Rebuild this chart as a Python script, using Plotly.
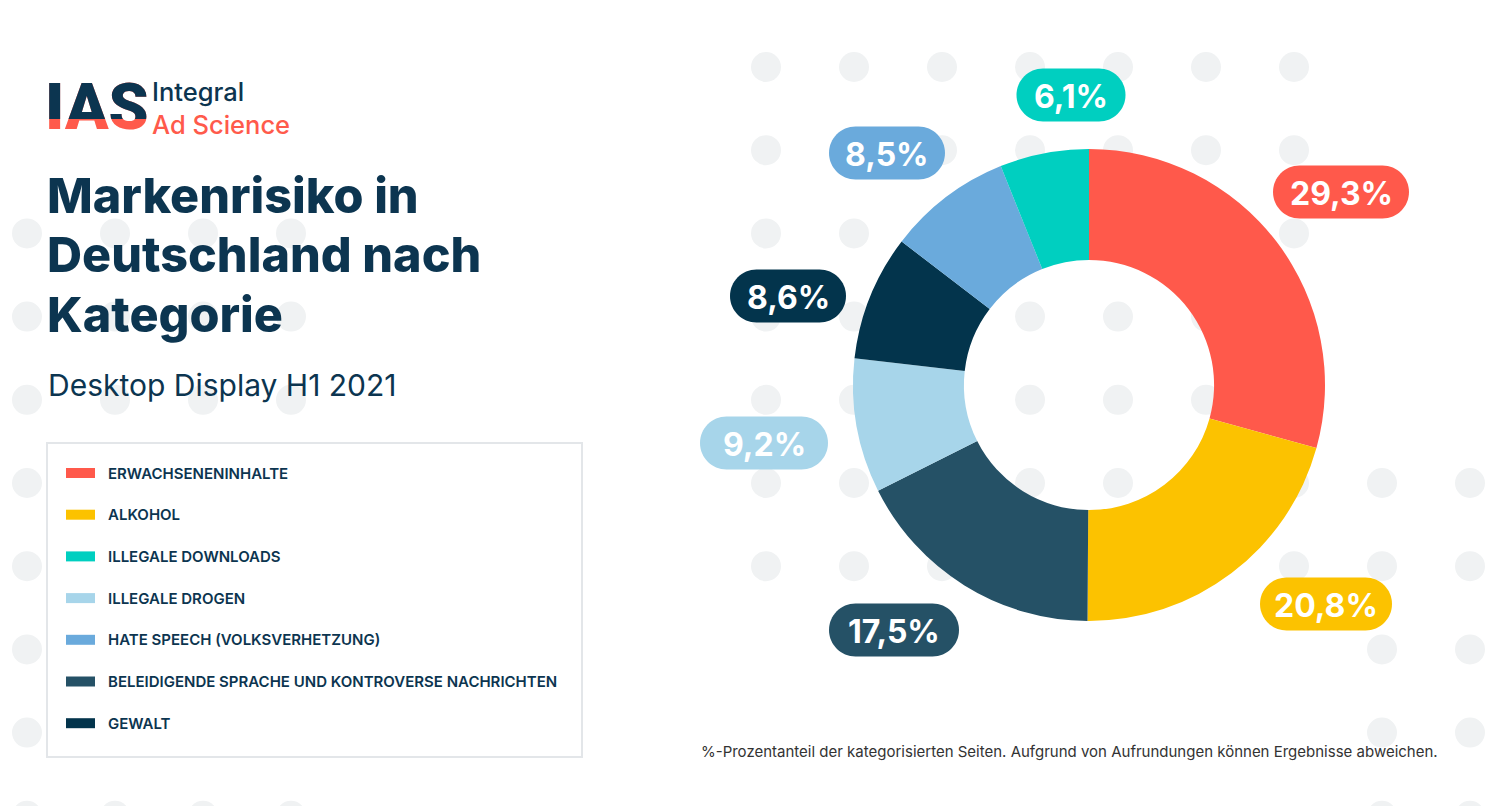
import plotly.graph_objects as go

W, H = 1489, 806

# ---- data ----
categories = [
    "ERWACHSENENINHALTE",
    "ALKOHOL",
    "BELEIDIGENDE SPRACHE UND KONTROVERSE NACHRICHTEN",
    "ILLEGALE DROGEN",
    "GEWALT",
    "HATE SPEECH (VOLKSVERHETZUNG)",
    "ILLEGALE DOWNLOADS",
]
shares = [29.3, 20.8, 17.5, 9.2, 8.6, 8.5, 6.1]
slice_colors = ["#FF594B", "#FCC200", "#255166", "#A7D5EA", "#03344C", "#6AAADC", "#00CFC0"]
legend_order = [
    "ERWACHSENENINHALTE",
    "ALKOHOL",
    "ILLEGALE DOWNLOADS",
    "ILLEGALE DROGEN",
    "HATE SPEECH (VOLKSVERHETZUNG)",
    "BELEIDIGENDE SPRACHE UND KONTROVERSE NACHRICHTEN",
    "GEWALT",
]
title_lines = ["Markenrisiko in", "Deutschland nach", "Kategorie"]

# badge placement (pixel centre, width) for each slice label
badge_pos = [(1341, 192), (1326, 604), (894, 630), (764, 443), (788, 296), (887, 153), (1071, 95)]
badge_w = [136, 132, 130, 128, 116, 116, 109]

NAVY = "#0C3550"
CORAL = "#FF5A4B"
DOT = "#F0F2F3"
FONT = "Inter"


def fx(x):
    return x / W


def fy(y):
    return 1 - y / H


fig = go.Figure()

# donut
cx, cy, R = 1089, 385, 236
fig.add_trace(go.Pie(
    labels=categories,
    values=shares,
    marker=dict(colors=slice_colors, line=dict(width=0)),
    hole=0.53,
    sort=False,
    direction="clockwise",
    rotation=0,
    textinfo="none",
    showlegend=False,
    hovertemplate="%{label}: %{value}%<extra></extra>",
    domain=dict(x=[fx(cx - R), fx(cx + R)], y=[fy(cy + R), fy(cy - R)]),
))

shapes = []

# decorative dot grid in the background
def dot(x, y, r=15):
    shapes.append(dict(type="circle", xref="paper", yref="paper",
                       x0=fx(x - r), x1=fx(x + r), y0=fy(y + r), y1=fy(y - r),
                       fillcolor=DOT, line=dict(width=0), layer="below"))

row_y = [67 + 83.2 * i for i in range(10)]
for r in range(2, 10):
    for c in range(4):
        dot(27 + 88 * c, row_y[r])
for r in range(0, 7):
    for c in range(7):
        dot(766 + 88 * c, row_y[r])
for r in range(5, 10):
    for c in range(7, 9):
        dot(766 + 88 * c, row_y[r])

# legend box
shapes.append(dict(type="rect", xref="paper", yref="paper",
                   x0=fx(47), x1=fx(582), y0=fy(757), y1=fy(443),
                   fillcolor="white", line=dict(color="#E3E6E9", width=2), layer="below"))

annotations = []
for i, name in enumerate(legend_order):
    yc = 473 + i * 41.7
    col = slice_colors[categories.index(name)]
    shapes.append(dict(type="rect", xref="paper", yref="paper",
                       x0=fx(66), x1=fx(95), y0=fy(yc + 5), y1=fy(yc - 5),
                       fillcolor=col, line=dict(width=0), layer="below"))
    annotations.append(dict(x=fx(106), y=fy(yc), xref="paper", yref="paper",
                            text=name, showarrow=False, xanchor="left", yanchor="middle",
                            font=dict(family=FONT, size=15, color=NAVY, weight=600)))


# rounded badges with the percentages
def pill(xc, yc, w, h):
    r = h / 2
    k = 0.5523 * r
    x0, x1 = xc - w / 2 + r, xc + w / 2 - r
    t, b = yc - r, yc + r
    p = lambda x, y: f"{fx(x):.5f},{fy(y):.5f}"
    return (f"M {p(x0, t)} L {p(x1, t)} "
            f"C {p(x1 + k, t)} {p(x1 + r, yc - k)} {p(x1 + r, yc)} "
            f"C {p(x1 + r, yc + k)} {p(x1 + k, b)} {p(x1, b)} "
            f"L {p(x0, b)} "
            f"C {p(x0 - k, b)} {p(x0 - r, yc + k)} {p(x0 - r, yc)} "
            f"C {p(x0 - r, yc - k)} {p(x0 - k, t)} {p(x0, t)} Z")


for v, col, (bx, by), bw in zip(shares, slice_colors, badge_pos, badge_w):
    shapes.append(dict(type="path", xref="paper", yref="paper", path=pill(bx, by, bw, 53),
                       fillcolor=col, line=dict(width=0), layer="above"))
    annotations.append(dict(x=fx(bx), y=fy(by + 1), xref="paper", yref="paper",
                            text=f"{v:.1f}".replace(".", ",") + "%", showarrow=False,
                            xanchor="center", yanchor="middle",
                            font=dict(family=FONT, size=32, color="white", weight=700)))

# logo: IAS in coral, with navy copy clipped to upper part
LOGO_FONT = dict(family="Roboto", size=64, weight=900)
annotations.append(dict(x=fx(43), y=fy(68), xref="paper", yref="paper", text="IAS",
                        showarrow=False, xanchor="left", yanchor="top",
                        font=dict(LOGO_FONT, color=CORAL)))
annotations.append(dict(x=fx(43), y=fy(68), xref="paper", yref="paper", text="IAS",
                        showarrow=False, xanchor="left", yanchor="top", height=49, valign="top",
                        font=dict(LOGO_FONT, color=NAVY)))
annotations.append(dict(x=fx(151), y=fy(108), xref="paper", yref="paper", text="Integral",
                        showarrow=False, xanchor="left", yanchor="bottom", borderpad=0,
                        font=dict(family=FONT, size=25.5, color=NAVY, weight=500)))
annotations.append(dict(x=fx(151), y=fy(108), xref="paper", yref="paper", text="Ad Science",
                        showarrow=False, xanchor="left", yanchor="top", borderpad=0,
                        font=dict(family=FONT, size=25.5, color=CORAL, weight=500)))

# title and subtitle
title_size = 48.5
for i, line in enumerate(title_lines):
    baseline = 213 + 59.5 * i
    annotations.append(dict(x=fx(45), y=fy(baseline - 0.3635 * title_size), xref="paper", yref="paper",
                            text=line, showarrow=False, xanchor="left", yanchor="middle",
                            font=dict(family=FONT, size=title_size, color=NAVY, weight=800)))
annotations.append(dict(x=fx(46), y=fy(385), xref="paper", yref="paper",
                        text="Desktop Display H1 2021", showarrow=False,
                        xanchor="left", yanchor="middle",
                        font=dict(family=FONT, size=30, color=NAVY, weight=400)))

# footnote
annotations.append(dict(x=fx(699), y=fy(751), xref="paper", yref="paper",
                        text="%-Prozentanteil der kategorisierten Seiten. Aufgrund von Aufrundungen können Ergebnisse abweichen.",
                        showarrow=False, xanchor="left", yanchor="middle",
                        font=dict(family=FONT, size=15, color="#333333", weight=400)))

fig.update_layout(
    width=W, height=H,
    margin=dict(l=0, r=0, t=0, b=0),
    paper_bgcolor="white",
    plot_bgcolor="white",
    shapes=shapes,
    annotations=annotations,
    font=dict(family=FONT),
)

fig.write_html("out.html", config={"displayModeBar": False},
               post_script="document.body.style.margin='0';")
